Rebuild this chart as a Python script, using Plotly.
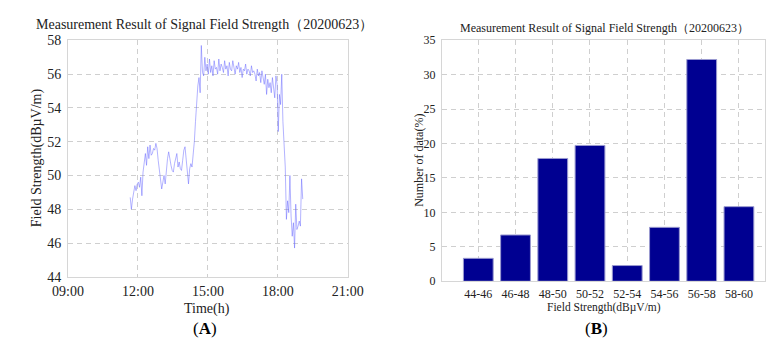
import pandas as pd
import plotly.graph_objects as go

# ---- field strength time series (3-minute samples), dBµV/m ----
start_time = "2020-06-23 11:40"
sample_step_min = 3
strength = [
    # 11:40 - 11:58
    48.7, 48.0, 48.6, 48.9, 49.4, 49.1, 49.5,
    # 12:01 - 12:58
    49.6, 49.3, 49.9, 48.8, 50.2, 50.8, 51.3, 50.6, 51.7, 51.0,
    51.8, 51.2, 51.3, 51.6, 51.5, 51.9, 51.6, 50.9, 50.3, 49.7,
    # 13:01 - 13:58
    49.2, 49.6, 50.0, 49.5, 50.6, 51.0, 51.4, 50.9, 50.6, 50.3,
    50.2, 50.7, 51.0, 51.3, 50.5, 50.8, 50.4, 50.3, 50.9, 51.5,
    # 14:01 - 14:58
    51.7, 50.8, 50.3, 49.5, 50.4, 50.7, 50.5, 51.2, 52.0, 53.2,
    54.7, 55.3, 55.8, 54.9, 57.7, 56.1, 55.9, 57.0, 56.2, 56.6,
    # 15:01 - 15:58
    56.0, 56.9, 56.1, 56.5, 55.9, 56.8, 56.3, 56.4, 56.0, 56.9,
    56.2, 56.6, 56.4, 56.1, 56.8, 56.3, 56.5, 55.9, 56.7, 56.3,
    # 16:01 - 16:58
    56.2, 56.8, 56.4, 56.0, 56.5, 56.3, 56.7, 56.1, 56.4, 55.8,
    56.3, 56.2, 56.6, 56.0, 56.3, 56.2, 55.9, 56.5, 56.1, 56.2,
    # 17:01 - 17:58
    56.0, 55.6, 56.3, 55.9, 56.1, 55.5, 56.2, 55.8, 55.4, 56.0,
    54.8, 55.7, 55.2, 55.5, 54.9, 55.8, 55.3, 54.6, 55.9, 55.4,
    # 18:01 - 18:58
    52.6, 54.8, 54.2, 56.0, 53.2, 51.5, 50.5, 47.4, 48.5, 47.8,
    50.0, 47.6, 46.4, 47.2, 45.7, 48.3, 46.8, 47.0, 47.3, 47.0,
    # 19:01 - 19:04
    49.8, 48.6,
]

# ---- distribution of field strength ----
bins = ["44-46", "46-48", "48-50", "50-52", "52-54", "54-56", "56-58", "58-60"]
share_pct = [3.33, 6.72, 17.83, 19.72, 2.28, 7.83, 32.2, 10.83]

times = pd.date_range(start_time, periods=len(strength), freq=f"{sample_step_min}min")

FONT = "Liberation Serif"
GRID = "#cfcfcf"
FRAME = "#d6d6d6"
TXT = "#222222"
W, H = 781, 346

fig = go.Figure()

fig.add_trace(go.Scatter(
    x=times, y=strength, mode="lines",
    line=dict(color="rgba(100,100,255,0.7)", width=0.7),
    xaxis="x", yaxis="y", showlegend=False,
))

fig.add_trace(go.Bar(
    x=bins, y=share_pct, width=0.8,
    marker=dict(color="#000091", line=dict(color="#9a9ad0", width=1)),
    xaxis="x2", yaxis="y2", showlegend=False,
))

axis_common = dict(
    showline=True, linecolor=FRAME, linewidth=1, mirror=True,
    showgrid=True, gridcolor=GRID, griddash="5px,4px", gridwidth=1,
    zeroline=False, ticks="",
)


def tfont(size):
    return dict(family=FONT, size=size, color=TXT)


fig.update_layout(
    width=W, height=H,
    margin=dict(l=0, r=0, t=0, b=0),
    paper_bgcolor="white", plot_bgcolor="white",
    font=dict(family=FONT, color=TXT),
    xaxis=dict(
        domain=[0.0695, 0.443], anchor="y", type="date",
        range=["2020-06-23 09:00", "2020-06-23 21:00"],
        dtick=3 * 3600 * 1000, tickformat="%H:%M",
        tickfont=tfont(14), ticklabelstandoff=1,
        **axis_common,
    ),
    yaxis=dict(
        domain=[0.185, 0.899], anchor="x", range=[44, 58], dtick=2,
        tickfont=tfont(14), ticklabelstandoff=3,
        **axis_common,
    ),
    xaxis2=dict(
        domain=[0.5685, 1.0], anchor="y2", type="category",
        range=[-0.98, 7.7],
        tickfont=tfont(12), ticklabelstandoff=1,
        **axis_common,
    ),
    yaxis2=dict(
        domain=[0.1714, 0.8997], anchor="x2", range=[0, 35], dtick=5,
        tickfont=tfont(12), ticklabelstandoff=3,
        **axis_common,
    ),
)

# text labels placed by pixel centre (x, y) on the page
labels = [
    ("Measurement Result of Signal Field Strength（20200623）", 197, 18, 14, 0),
    ("Time(h)", 199, 316, 14, 0),
    ("(<b>A</b>)", 197, 336, 17, 0),
    ("Field Strength(dBµV/m)", 22, 158, 14, -90),
    ("Measurement Result of Signal Field Strength（20200623）", 614, 22, 12, 0),
    ("Field Strength(dBµV/m)", 613, 314, 11.5, 0),
    ("Number of data(%)", 420, 160, 12, -90),
    ("(<b>B</b>)", 605, 336, 17, 0),
]
fig.update_layout(annotations=[
    dict(text=t, x=x / W, y=1 - y / H, xref="paper", yref="paper",
         xanchor="center", yanchor="middle", showarrow=False, textangle=ang,
         font=dict(family=FONT, size=s, color="black" if "<b>" in t else TXT))
    for t, x, y, s, ang in labels
])

fig.write_html("out.html")
